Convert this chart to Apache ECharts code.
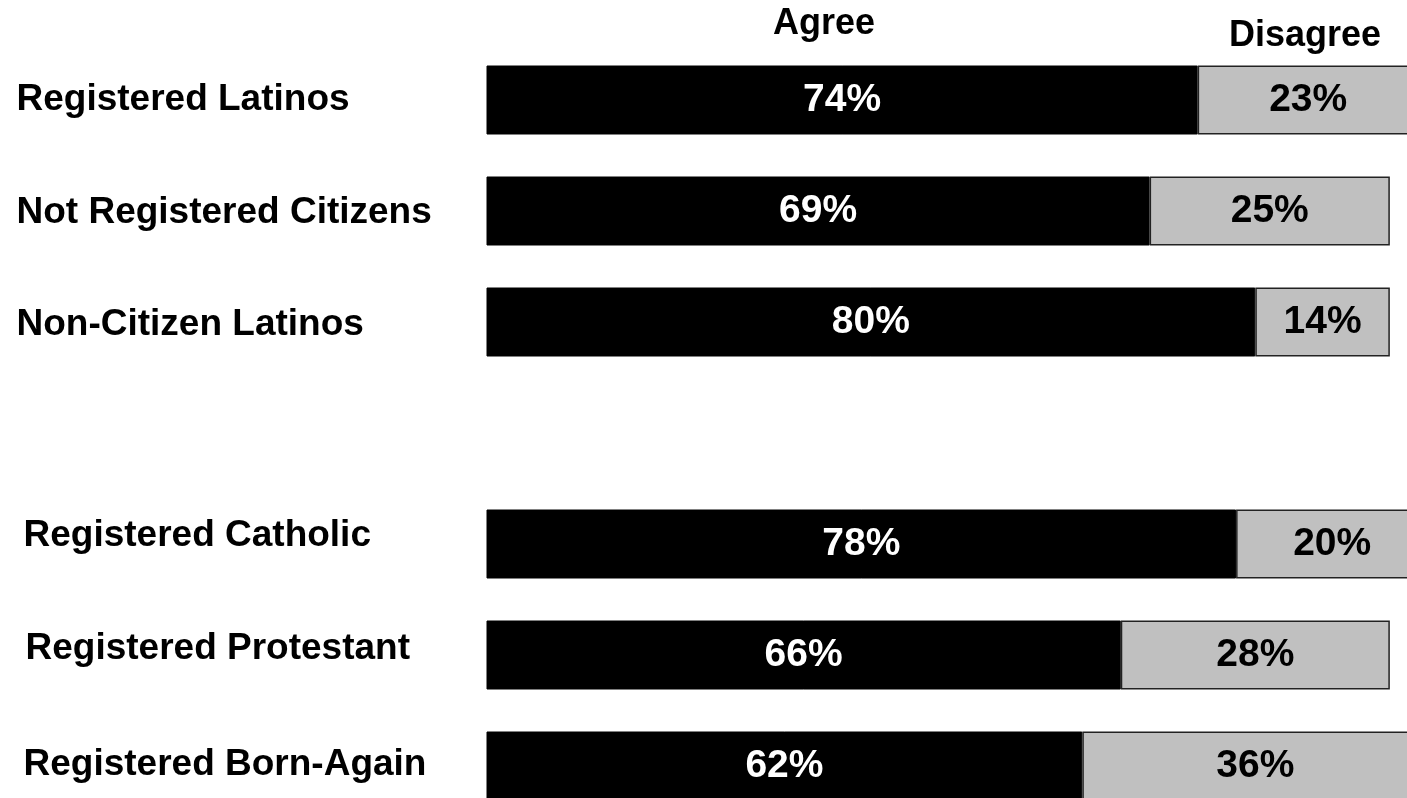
<!DOCTYPE html>
<html><head><meta charset="utf-8">
<script src="https://cdn.jsdelivr.net/npm/echarts@6/dist/echarts.min.js"></script>
<style>html,body{margin:0;padding:0;background:#fff}#c{width:1407px;height:798px}</style>
</head><body><div id="c"></div>
<script>
const categories = ['Registered Latinos', 'Not Registered Citizens', 'Non-Citizen Latinos', '', 'Registered Catholic', 'Registered Protestant', 'Registered Born-Again'];
const agree = [74, 69, 80, '-', 78, 66, 62];
const disagree = [23, 25, 14, '-', 20, 28, 36];
const seriesNames = ['Agree', 'Disagree'];

const FONT = '"Liberation Sans", Arial, Helvetica, sans-serif';
// per-row label nudges [top, right, bottom, left] padding
const labelPads = [[0,0,0,0],[4,0,0,0],[5,0,0,0],[0,0,0,0],[0,0,16,7],[0,0,12,9],[0,0,2,7]];
const rich = {};
labelPads.forEach((p, i) => {
  rich['r' + i] = { fontSize: 37, fontWeight: 'bold', color: '#000', fontFamily: FONT, padding: p };
});

const chart = echarts.init(document.getElementById('c'), null, { renderer: 'canvas' });
chart.setOption({
  animation: false,
  backgroundColor: '#fff',
  grid: { left: 486.5, top: 44.5, width: 961, height: 777, containLabel: false, outerBoundsMode: 'none' },
  xAxis: { type: 'value', min: 0, max: 100, show: false },
  yAxis: {
    type: 'category', data: categories, inverse: true,
    axisLine: { show: false }, axisTick: { show: false }, splitLine: { show: false },
    axisLabel: {
      align: 'left', margin: 470,
      formatter: (v, i) => v ? `{r${i}|${v}}` : '',
      rich: rich
    }
  },
  graphic: [
    { type: 'text', left: 773, top: 6, style: { text: seriesNames[0], font: 'bold 36px ' + FONT, fill: '#000' } },
    { type: 'text', left: 1229, top: 18, style: { text: seriesNames[1], font: 'bold 36px ' + FONT, fill: '#000' } }
  ],
  series: [
    {
      name: seriesNames[0], type: 'bar', stack: 'all', data: agree, barWidth: 69,
      itemStyle: { color: '#000', borderColor: '#000', borderWidth: 1 },
      label: { show: true, position: 'inside', formatter: '{c}%', color: '#fff', fontSize: 39, fontWeight: 'bold', fontFamily: FONT }
    },
    {
      name: seriesNames[1], type: 'bar', stack: 'all', data: disagree, barWidth: 69,
      itemStyle: { color: '#c0c0c0', borderColor: '#222', borderWidth: 1.5 },
      label: { show: true, position: 'inside', formatter: '{c}%', color: '#000', fontSize: 39, fontWeight: 'bold', fontFamily: FONT }
    }
  ]
});
</script></body></html>
